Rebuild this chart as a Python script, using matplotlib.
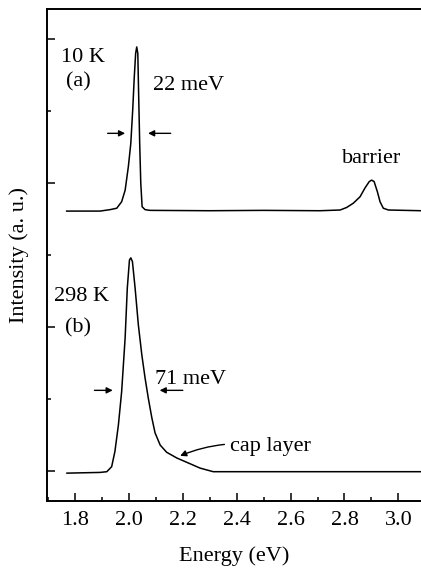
import matplotlib
matplotlib.use('Agg')
import matplotlib.pyplot as plt
from matplotlib.ticker import MultipleLocator

plt.rcParams['font.family'] = ['Liberation Serif', 'DejaVu Serif']

# 10 K spectrum (a), offset upward
energy_10k = [1.769, 1.893, 1.930, 1.955, 1.973, 1.986, 1.998, 2.007, 2.014, 2.020,
              2.025, 2.029, 2.033, 2.036, 2.040, 2.044, 2.049, 2.060, 2.078, 2.300,
              2.500, 2.709, 2.784, 2.808, 2.833, 2.858, 2.876, 2.892, 2.901, 2.910,
              2.922, 2.932, 2.944, 2.963, 3.084]
intensity_10k = [3.61, 3.61, 3.63, 3.65, 3.74, 3.90, 4.23, 4.55, 5.01, 5.48,
                 5.80, 5.89, 5.80, 5.25, 4.55, 4.00, 3.67, 3.63, 3.62, 3.615,
                 3.62, 3.615, 3.625, 3.66, 3.72, 3.81, 3.93, 4.02, 4.04, 4.02,
                 3.88, 3.74, 3.65, 3.625, 3.615]

# 298 K spectrum (b)
energy_298k = [1.770, 1.893, 1.918, 1.936, 1.948, 1.961, 1.973, 1.986, 1.994, 2.002,
               2.007, 2.013, 2.023, 2.035, 2.048, 2.060, 2.072, 2.085, 2.097, 2.116,
               2.140, 2.178, 2.215, 2.264, 2.313, 2.600, 2.900, 3.084]
intensity_298k = [-0.03, -0.02, -0.01, 0.06, 0.27, 0.64, 1.10, 1.85, 2.54, 2.93,
                  2.96, 2.91, 2.54, 2.03, 1.61, 1.29, 1.01, 0.74, 0.53, 0.36,
                  0.26, 0.18, 0.12, 0.04, -0.01, -0.01, -0.01, -0.01]

xticks = [1.8, 2.0, 2.2, 2.4, 2.6, 2.8, 3.0]
xtick_labels = ['1.8', '2.0', '2.2', '2.4', '2.6', '2.8', '3.0']

fig = plt.figure(figsize=(4.21, 5.71), dpi=100)
ax = fig.add_axes([47 / 421, 70 / 571, 1 - 47 / 421, 492 / 571])

ax.plot(energy_10k, intensity_10k, color='k', lw=1.1)
ax.plot(energy_298k, intensity_298k, color='k', lw=1.1)

ax.set_xlim(1.696, 3.084)
ax.set_ylim(-0.417, 6.417)

ax.set_xticks(xticks)
ax.set_xticklabels(xtick_labels)
ax.xaxis.set_minor_locator(MultipleLocator(0.1))
ax.set_yticks([0, 2, 4, 6])
ax.set_yticklabels([])
ax.yaxis.set_minor_locator(MultipleLocator(1))
ax.tick_params(which='both', direction='in', top=False, right=False, width=1.1)
ax.tick_params(which='major', length=6, labelsize=16, pad=7)
ax.tick_params(which='minor', length=3)

ax.spines['right'].set_visible(False)
for s in ['left', 'bottom', 'top']:
    ax.spines[s].set_linewidth(1.4)

ax.set_xlabel('Energy (eV)', fontsize=16, labelpad=12)
ax.set_ylabel('Intensity (a. u.)', fontsize=16, labelpad=6)

fs = 16
ax.text(1.748, 5.74, '10 K', fontsize=fs, va='center', ha='left')
ax.text(1.767, 5.41, '(a)', fontsize=fs, va='center', ha='left')
ax.text(2.090, 5.35, '22 meV', fontsize=fs, va='center', ha='left')
ax.text(1.723, 2.42, '298 K', fontsize=fs, va='center', ha='left')
ax.text(1.763, 1.99, '(b)', fontsize=fs, va='center', ha='left')
ax.text(2.097, 1.27, '71 meV', fontsize=fs, va='center', ha='left')
ax.text(2.901, 4.34, 'barrier', fontsize=fs, va='center', ha='center')

arrow = dict(arrowstyle='-|>', color='k', lw=1.0, mutation_scale=9, shrinkA=0, shrinkB=0)
# FWHM markers
ax.annotate('', xy=(1.986, 4.69), xytext=(1.921, 4.69), arrowprops=arrow)
ax.annotate('', xy=(2.071, 4.69), xytext=(2.155, 4.69), arrowprops=arrow)
ax.annotate('', xy=(1.940, 1.12), xytext=(1.872, 1.12), arrowprops=arrow)
ax.annotate('', xy=(2.114, 1.12), xytext=(2.200, 1.12), arrowprops=arrow)

ax.annotate('cap layer', xy=(2.190, 0.21), xytext=(2.375, 0.34), fontsize=fs,
            va='center', ha='left',
            arrowprops=dict(arrowstyle='-|>', color='k', lw=1.0, mutation_scale=9,
                            shrinkA=2, shrinkB=0, connectionstyle='arc3,rad=0.15'))

fig.savefig('out.png', dpi=100)
